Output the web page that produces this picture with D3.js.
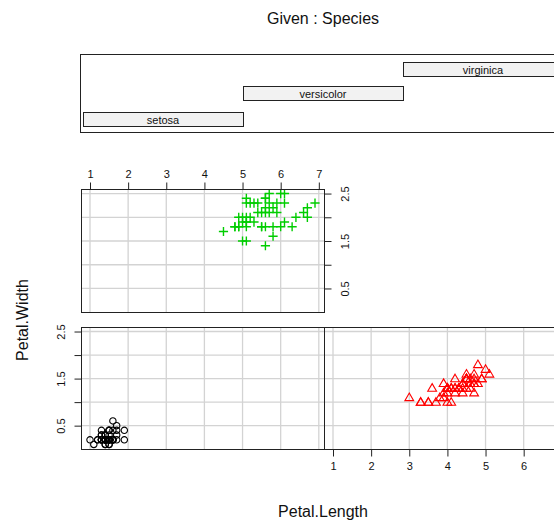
<!DOCTYPE html>
<html><head><meta charset="utf-8">
<script src="https://cdn.jsdelivr.net/npm/d3@7"></script>
<style>body{margin:0;background:#fff}svg{display:block;font-family:"Liberation Sans",Arial,sans-serif}</style>
</head><body><svg id="c" width="554" height="521"></svg>
<script>
const species = ["setosa","versicolor","virginica"];
const setosaLength = [1.4,1.4,1.3,1.5,1.4,1.7,1.4,1.5,1.4,1.5,1.5,1.6,1.4,1.1,1.2,1.5,1.3,1.4,1.7,1.5,1.7,1.5,1.0,1.7,1.9,1.6,1.6,1.5,1.4,1.6,1.6,1.5,1.5,1.4,1.5,1.2,1.3,1.4,1.3,1.5,1.3,1.3,1.3,1.6,1.9,1.4,1.6,1.4,1.5,1.4];
const setosaWidth = [0.2,0.2,0.2,0.2,0.2,0.4,0.3,0.2,0.2,0.1,0.2,0.2,0.1,0.1,0.2,0.4,0.4,0.3,0.3,0.3,0.2,0.4,0.2,0.5,0.2,0.2,0.4,0.2,0.2,0.2,0.2,0.4,0.1,0.2,0.2,0.2,0.2,0.1,0.2,0.2,0.3,0.3,0.2,0.6,0.4,0.3,0.2,0.2,0.2,0.2];
const versicolorLength = [4.7,4.5,4.9,4.0,4.6,4.5,4.7,3.3,4.6,3.9,3.5,4.2,4.0,4.7,3.6,4.4,4.5,4.1,4.5,3.9,4.8,4.0,4.9,4.7,4.3,4.4,4.8,5.0,4.5,3.5,3.8,3.7,3.9,5.1,4.5,4.5,4.7,4.4,4.1,4.0,4.4,4.6,4.0,3.3,4.2,4.2,4.2,4.3,3.0,4.1];
const versicolorWidth = [1.4,1.5,1.5,1.3,1.5,1.3,1.6,1.0,1.3,1.4,1.0,1.5,1.0,1.4,1.3,1.4,1.5,1.0,1.5,1.1,1.8,1.3,1.5,1.2,1.3,1.4,1.4,1.7,1.5,1.0,1.1,1.0,1.2,1.6,1.5,1.6,1.5,1.3,1.3,1.3,1.2,1.4,1.2,1.0,1.3,1.2,1.3,1.3,1.1,1.3];
const virginicaLength = [6.0,5.1,5.9,5.6,5.8,6.6,4.5,6.3,5.8,6.1,5.1,5.3,5.5,5.0,5.1,5.3,5.5,6.7,6.9,5.0,5.7,4.9,6.7,4.9,5.7,6.0,4.8,4.9,5.6,5.8,6.1,6.4,5.6,5.1,5.6,6.1,5.6,5.5,4.8,5.4,5.6,5.1,5.1,5.9,5.7,5.2,5.0,5.2,5.4,5.1];
const virginicaWidth = [2.5,1.9,2.1,1.8,2.2,2.1,1.7,1.8,1.8,2.5,2.0,1.9,2.1,2.0,2.4,2.3,1.8,2.2,2.3,1.5,2.3,2.0,2.0,1.8,2.1,1.8,1.8,1.8,2.1,1.6,1.9,2.0,2.2,1.5,1.4,2.3,2.4,1.8,1.8,2.1,2.4,2.3,1.9,2.3,2.5,2.3,1.9,2.0,2.3,1.8];
const xTicks = [1,2,3,4,5,6,7];
const yTicks = [0.5,1.0,1.5,2.0,2.5];
const yTickLabels = ["0.5","","1.5","","2.5"];
const titleText = "Given : Species";
const xLabel = "Petal.Length";
const yLabel = "Petal.Width";

const svg = d3.select("#c");
const xDom = [0.764, 7.136], yDom = [0.004, 2.596];
const pw = 243;
const panels = [
  {name:"setosa", x0:81, y0:327, h:122, lx:setosaLength, ly:setosaWidth, shape:"circle", col:"#000000"},
  {name:"versicolor", x0:324, y0:327, h:122, lx:versicolorLength, ly:versicolorWidth, shape:"triangle", col:"#FF0000"},
  {name:"virginica", x0:81, y0:189, h:123, lx:virginicaLength, ly:virginicaWidth, shape:"plus", col:"#00CD00"}
];

panels.forEach((p,i) => {
  const x = d3.scaleLinear().domain(xDom).range([p.x0, p.x0+pw]);
  const y = d3.scaleLinear().domain(yDom).range([p.y0+p.h, p.y0]);
  p.x = x; p.y = y;
  const g = svg.append("g");
  const clipId = "clip"+i;
  svg.append("clipPath").attr("id",clipId).append("rect").attr("x",p.x0).attr("y",p.y0).attr("width",pw).attr("height",p.h);
  const gg = g.append("g").attr("clip-path",`url(#${clipId})`);
  gg.selectAll(".gx").data(xTicks).join("line")
    .attr("x1",d=>x(d)).attr("x2",d=>x(d)).attr("y1",p.y0).attr("y2",p.y0+p.h)
    .attr("stroke","#d3d3d3").attr("stroke-width",1.3);
  gg.selectAll(".gy").data(yTicks).join("line")
    .attr("x1",p.x0).attr("x2",p.x0+pw).attr("y1",d=>y(d)).attr("y2",d=>y(d))
    .attr("stroke","#d3d3d3").attr("stroke-width",1.3);
  const pts = p.lx.map((v,k)=>[v,p.ly[k]]);
  const sel = gg.selectAll(".pt").data(pts).join("path")
    .attr("transform",d=>`translate(${x(d[0])},${y(d[1])})`)
    .attr("fill","none").attr("stroke",p.col).attr("stroke-width",1.1);
  if (p.shape==="circle") sel.attr("d", d3.symbol(d3.symbolCircle, 32)());
  else if (p.shape==="triangle") sel.attr("d","M0,-4.4L4.4,3.2L-4.4,3.2Z");
  else sel.attr("d","M-4.6,0H4.6M0,-4.6V4.6").attr("stroke-width",1.4);
  g.append("rect").attr("x",p.x0+0.5).attr("y",p.y0+0.5).attr("width",pw).attr("height",p.h)
    .attr("fill","none").attr("stroke","#222").attr("stroke-width",1);
});

function tickText(sel){ sel.attr("font-size",11).attr("fill","#111").attr("font-family","Liberation Sans, Arial, sans-serif"); }
const pv = panels[2];
const ax1 = svg.append("g").attr("transform",`translate(0,${pv.y0+0.5})`)
  .call(d3.axisTop(pv.x).tickValues(xTicks).tickFormat(d3.format("d")).tickSize(7).tickPadding(5));
ax1.select(".domain").remove();
ax1.selectAll("text").call(tickText);
ax1.selectAll("line").attr("stroke","#222");
const ax2 = svg.append("g").attr("transform",`translate(${pv.x0+pw+0.5},0)`)
  .call(d3.axisRight(pv.y).tickValues(yTicks).tickFormat((d,i)=>yTickLabels[i]).tickSize(7));
ax2.select(".domain").remove();
ax2.selectAll("line").attr("stroke","#222");
ax2.selectAll("text").call(tickText)
  .attr("x",null).attr("dy",null).attr("text-anchor","middle")
  .attr("transform","translate(24,0) rotate(-90)").attr("y",0);
const ps = panels[0];
const ax3 = svg.append("g").attr("transform",`translate(${ps.x0+0.5},0)`)
  .call(d3.axisLeft(ps.y).tickValues(yTicks).tickFormat((d,i)=>yTickLabels[i]).tickSize(7));
ax3.select(".domain").remove();
ax3.selectAll("line").attr("stroke","#222");
ax3.selectAll("text").call(tickText)
  .attr("x",null).attr("dy",null).attr("text-anchor","middle")
  .attr("transform","translate(-17,0) rotate(-90)").attr("y",0);
const pc = panels[1];
const ax4 = svg.append("g").attr("transform",`translate(0,${pc.y0+pc.h+0.5})`)
  .call(d3.axisBottom(pc.x).tickValues(xTicks).tickFormat(d=> pc.x(d) > 548 ? "" : d3.format("d")(d)).tickSize(7).tickPadding(6));
ax4.select(".domain").remove();
ax4.selectAll("line").attr("stroke","#222");
ax4.selectAll("text").call(tickText);

const gx = d3.scaleLinear().domain([0.5,3.5]).range([83,563]);
svg.append("rect").attr("x",80.5).attr("y",54.5).attr("width",487).attr("height",78)
  .attr("fill","none").attr("stroke","#222");
const barY = [112, 86, 62];
const gb = svg.append("g");
species.forEach((s,i)=>{
  gb.append("rect").attr("x",gx(i+0.5)+0.5).attr("y",barY[i]+0.5).attr("width",gx(i+1.5)-gx(i+0.5)).attr("height",14)
    .attr("fill","#f2f2f2").attr("stroke","#222");
  gb.append("text").attr("x",gx(i+1)).attr("y",barY[i]+11.5).attr("text-anchor","middle")
    .attr("font-size",11).attr("fill","#111").text(s);
});

svg.append("text").attr("x",323).attr("y",24).attr("text-anchor","middle").attr("font-size",16).attr("fill","#111").text(titleText);
svg.append("text").attr("x",323).attr("y",517).attr("text-anchor","middle").attr("font-size",16).attr("fill","#111").text(xLabel);
svg.append("text").attr("transform","translate(28,320) rotate(-90)").attr("text-anchor","middle").attr("font-size",16).attr("fill","#111").text(yLabel);
</script></body></html>
